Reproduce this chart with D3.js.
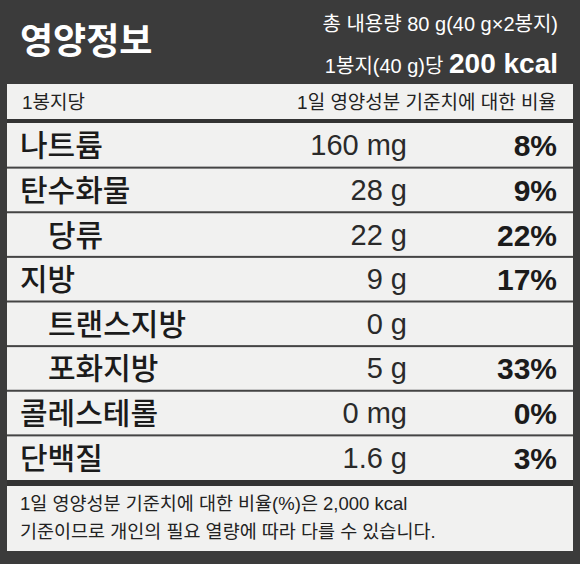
<!DOCTYPE html>
<html><head><meta charset="utf-8">
<script src="https://cdn.jsdelivr.net/npm/d3@7"></script>
<style>body{margin:0;background:#3b3b3b}</style>
</head><body>
<svg id="label" width="580" height="564"></svg>
<script>
var names=["나트륨","탄수화물","당류","지방","트랜스지방","포화지방","콜레스테롤","단백질"]
var amounts=["160 mg","28 g","22 g","9 g","0 g","5 g","0 mg","1.6 g"]
var percents=["8%","9%","22%","17%","","33%","0%","3%"]
var indents=[0,0,1,0,1,1,0,0]

var font="'Liberation Sans', 'Noto Sans CJK KR', sans-serif"
var svg=d3.select("#label")

// dark frame and header
svg.append("rect").attr("width",580).attr("height",564).attr("fill","#3b3b3b")
svg.append("rect").attr("x",7).attr("y",84).attr("width",566).attr("height",467)
    .attr("fill","#f1f1f0")

svg.append("text").attr("x",20).attr("y",54).attr("fill","#fff")
    .attr("font-family",font).attr("font-size",36).attr("font-weight",700).text("영양정보")
svg.append("text").attr("x",558).attr("y",31).attr("text-anchor","end").attr("fill","#fff")
    .attr("font-family",font).attr("font-size",20).text("총 내용량 80 g(40 g×2봉지)")
var kc=svg.append("text").attr("x",558).attr("y",73).attr("text-anchor","end").attr("fill","#fff")
    .attr("font-family",font).attr("font-size",20)
kc.append("tspan").text("1봉지(40 g)당 ")
kc.append("tspan").attr("font-size",28).attr("font-weight",700).text("200 kcal")

// header row
svg.append("text").attr("x",22).attr("y",109).attr("font-family",font).attr("font-size",19)
    .attr("fill","#222").text("1봉지당")
svg.append("text").attr("x",556).attr("y",109).attr("text-anchor","end").attr("font-family",font)
    .attr("font-size",19).attr("fill","#222").text("1일 영양성분 기준치에 대한 비율")
svg.append("rect").attr("x",7).attr("y",119).attr("width",566).attr("height",4).attr("fill","#333")

var y=d3.scaleBand().domain(d3.range(names.length)).range([123,480])

var rows=svg.selectAll("g.row").data(names).enter().append("g")
    .attr("transform",function(d,i){return "translate(0,"+y(i)+")"})

rows.append("text").attr("x",function(d,i){return indents[i]?48:20})
    .attr("y",y.bandwidth()/2+11).attr("font-family",font).attr("font-size",30)
    .attr("font-weight",500).attr("fill","#1b1b1b").text(function(d){return d})
rows.append("text").attr("x",407).attr("y",y.bandwidth()/2+10).attr("text-anchor","end")
    .attr("font-family",font).attr("font-size",29).attr("fill","#2a2a2a")
    .text(function(d,i){return amounts[i]})
rows.append("text").attr("x",557).attr("y",y.bandwidth()/2+11).attr("text-anchor","end")
    .attr("font-family",font).attr("font-size",30).attr("font-weight",700).attr("fill","#1b1b1b")
    .text(function(d,i){return percents[i]})
rows.filter(function(d,i){return i<names.length-1}).append("rect")
    .attr("x",7).attr("y",y.bandwidth()-1).attr("width",566).attr("height",2).attr("fill","#444")

// bottom thick line and footnote
svg.append("rect").attr("x",7).attr("y",480).attr("width",566).attr("height",6).attr("fill","#333")
svg.append("text").attr("x",20).attr("y",510).attr("font-family",font).attr("font-size",18.5)
    .attr("fill","#222").text("1일 영양성분 기준치에 대한 비율(%)은 2,000 kcal")
svg.append("text").attr("x",20).attr("y",538).attr("font-family",font).attr("font-size",18.5)
    .attr("fill","#222").text("기준이므로 개인의 필요 열량에 따라 다를 수 있습니다.")
</script>
</body></html>
